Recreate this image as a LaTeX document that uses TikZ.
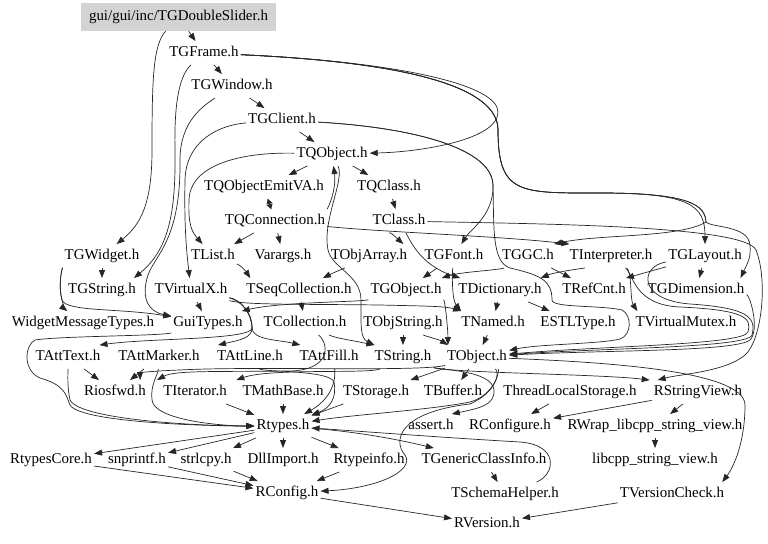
\documentclass[tikz,border=0pt]{standalone}
\usepackage{fontspec}
\setmainfont{Liberation Serif}
\usetikzlibrary{arrows.meta}
\definecolor{gbox}{RGB}{211,211,211}
\begin{document}
\begin{tikzpicture}[x=1bp,y=-1bp,
  nd/.style={inner xsep=2bp, inner ysep=4.5bp, text height=11bp, text depth=3.5bp, font=\fontsize{15}{18}\selectfont, text=black},
  edg/.style={draw=black!85, line width=0.7bp, -{Triangle[length=8bp,width=6bp]}},
  edgs/.style={draw=black!85, line width=0.7bp, -{Triangle[length=5bp,width=6bp]}}]
\useasboundingbox (0,0) rectangle (768,544);
% nodes
\node[nd, fill=gbox, minimum width=195bp, minimum height=28bp] (gui) at (178.5,17) {gui/gui/inc/TGDoubleSlider.h};
\node[nd] (TGFrame) at (204,53) {TGFrame.h};
\node[nd] (TGWindow) at (232,86) {TGWindow.h};
\node[nd] (TGClient) at (282,120) {TGClient.h};
\node[nd] (TQObject) at (332,154) {TQObject.h};
\node[nd] (TQObjectEmitVA) at (264,187) {TQObjectEmitVA.h};
\node[nd] (TQClass) at (389,187) {TQClass.h};
\node[nd] (TQConnection) at (275,221) {TQConnection.h};
\node[nd] (TClass) at (399,221) {TClass.h};
\node[nd] (TGWidget) at (102,256) {TGWidget.h};
\node[nd] (TList) at (213,256) {TList.h};
\node[nd] (Varargs) at (283,256) {Varargs.h};
\node[nd] (TObjArray) at (369,256) {TObjArray.h};
\node[nd] (TGFont) at (454,256) {TGFont.h};
\node[nd] (TGGC) at (528,256) {TGGC.h};
\node[nd] (TInterpreter) at (611,256) {TInterpreter.h};
\node[nd] (TGLayout) at (705,256) {TGLayout.h};
\node[nd] (TGString) at (102,290) {TGString.h};
\node[nd] (TVirtualX) at (191,290) {TVirtualX.h};
\node[nd] (TSeqCollection) at (299,290) {TSeqCollection.h};
\node[nd] (TGObject) at (406,290) {TGObject.h};
\node[nd] (TDictionary) at (500,290) {TDictionary.h};
\node[nd] (TRefCnt) at (594,290) {TRefCnt.h};
\node[nd] (TGDimension) at (696,290) {TGDimension.h};
\node[nd] (WidgetMessageTypes) at (83,323) {WidgetMessageTypes.h};
\node[nd] (GuiTypes) at (208,323) {GuiTypes.h};
\node[nd] (TCollection) at (305,323) {TCollection.h};
\node[nd] (TObjString) at (403,323) {TObjString.h};
\node[nd] (TNamed) at (493,323) {TNamed.h};
\node[nd] (ESTLType) at (578,323) {ESTLType.h};
\node[nd] (TVirtualMutex) at (686,323) {TVirtualMutex.h};
\node[nd] (TAttText) at (68,357) {TAttText.h};
\node[nd] (TAttMarker) at (159,357) {TAttMarker.h};
\node[nd] (TAttLine) at (250,357) {TAttLine.h};
\node[nd] (TAttFill) at (329,357) {TAttFill.h};
\node[nd] (TString) at (403,357) {TString.h};
\node[nd] (TObject) at (477,357) {TObject.h};
\node[nd] (Riosfwd) at (115,392) {Riosfwd.h};
\node[nd] (TIterator) at (195,392) {TIterator.h};
\node[nd] (TMathBase) at (283,392) {TMathBase.h};
\node[nd] (TStorage) at (376,392) {TStorage.h};
\node[nd] (TBuffer) at (453,392) {TBuffer.h};
\node[nd] (ThreadLocalStorage) at (570,392) {ThreadLocalStorage.h};
\node[nd] (RStringView) at (698,392) {RStringView.h};
\node[nd] (Rtypes) at (283,426) {Rtypes.h};
\node[nd] (assert) at (431,426) {assert.h};
\node[nd] (RConfigure) at (510,426) {RConfigure.h};
\node[nd] (RWrap) at (655,426) {RWrap\_libcpp\_string\_view.h};
\node[nd] (RtypesCore) at (51,460) {RtypesCore.h};
\node[nd] (snprintf) at (137,460) {snprintf.h};
\node[nd] (strlcpy) at (206,460) {strlcpy.h};
\node[nd] (DllImport) at (283,460) {DllImport.h};
\node[nd] (Rtypeinfo) at (369,460) {Rtypeinfo.h};
\node[nd] (TGenericClassInfo) at (484,460) {TGenericClassInfo.h};
\node[nd] (libcpp) at (655,460) {libcpp\_string\_view.h};
\node[nd] (RConfig) at (287,493) {RConfig.h};
\node[nd] (TSchemaHelper) at (505,494) {TSchemaHelper.h};
\node[nd] (TVersionCheck) at (672,494) {TVersionCheck.h};
\node[nd] (RVersion) at (487,524) {RVersion.h};
% top edges
\draw[edg] (gui) -- (TGFrame);
\draw[edg] (gui) .. controls (153,45) and (152,80) .. (152,150) .. controls (152,205) and (140,225) .. (TGWidget);
\draw[edg] (TGFrame) -- (TGWindow);
\draw[edg] (TGFrame) .. controls (400,62) and (498,85) .. (498,112) .. controls (498,140) and (420,152) .. (TQObject);
\draw[edg] (TGFrame) .. controls (400,62) and (498,85) .. (498,130) .. controls (498,195) and (520,193) .. (600,193) .. controls (690,193) and (705,205) .. (TGLayout);
\draw[edg] (TGFrame) .. controls (400,62) and (498,85) .. (498,130) .. controls (498,195) and (520,193) .. (600,193) .. controls (690,193) and (705,205) .. (706,222) .. controls (712,228) and (748,225) .. (750,245) .. controls (751,258) and (748,262) .. ([xshift=-6bp]TGDimension.north east);
\draw[edg] (TGFrame) .. controls (400,62) and (498,85) .. (498,130) .. controls (498,195) and (520,193) .. (600,193) .. controls (690,193) and (705,205) .. (706,222) .. controls (680,238) and (600,234) .. ([xshift=-2bp]TGGC.north east);
\draw[edg] (TGFrame) .. controls (180,75) and (174,100) .. (175,150) .. controls (176,215) and (168,250) .. ([xshift=-4bp]TGString.north east);
\draw[edg] (TGWindow) -- (TGClient);
\draw[edg] (TGWindow) .. controls (205,105) and (180,120) .. (180,160) .. controls (181,240) and (155,255) .. (148,275) .. controls (140,300) and (150,312) .. (GuiTypes);
\draw[edg] (TGClient) -- (TQObject);
\draw[edg] (TGClient) .. controls (220,125) and (186,140) .. (185,180) .. controls (184,230) and (187,255) .. (TVirtualX);
\draw[edg] (TGClient) .. controls (420,128) and (492,150) .. (493,185) .. controls (494,215) and (470,230) .. (TGFont);
\draw[edg] (TGClient) .. controls (420,128) and (492,150) .. (493,185) .. controls (494,230) and (492,262) .. (510,268) .. controls (540,275) and (552,280) .. (552,300) .. controls (552,308) and (600,305) .. (622,310) .. controls (632,315) and (632,335) .. (620,339) .. controls (600,344) and (540,344) .. (TObject);
\draw[edg] (TQObject) -- (TQObjectEmitVA);
\draw[edg] (TQObject) -- (TQClass);
\draw[edg] (TQObject) .. controls (240,152) and (190,165) .. (189,200) .. controls (188,225) and (192,232) .. (TList);
\draw[edg] (TQObject) .. controls (345,180) and (322,220) .. (328,250) .. controls (332,268) and (361,275) .. (361,300) .. controls (361,325) and (360,338) .. ([xshift=2bp]TString.north west);
\draw[edg] (TQClass) -- (TClass);
\draw[edgs] (TQObjectEmitVA) -- (TQConnection);
\draw[edgs] (TQConnection) -- (TQObjectEmitVA);
\draw[edg] (TQConnection.north east) .. controls (332,200) and (336,185) .. (TQObject);
\draw[edg] (TQConnection) -- (TList);
\draw[edg] (TQConnection) -- (Varargs);
\draw[edg] (TQConnection) .. controls (380,232) and (500,236) .. ([xshift=2bp]TInterpreter.north west);
\draw[edg] (TClass) .. controls (390,232) .. ([xshift=-6bp]TObjArray.north east);
\draw[edg] (TList) .. controls (240,265) and (245,270) .. ([xshift=6bp]TSeqCollection.north west);
\draw[edg] (TObjArray) .. controls (345,268) and (335,272) .. (TSeqCollection);
\draw[edg] (TClass) .. controls (410,240) and (420,265) .. ([xshift=4bp]TDictionary.north west);
\draw[edg] (TClass) .. controls (550,224) and (745,226) .. (756,250) .. controls (768,280) and (762,340) .. (745,355) .. controls (725,372) and (680,374) .. ([xshift=6bp]RStringView.north west);
% middle edges
\draw[edg] (TVirtualX) -- (GuiTypes);
\draw[edg] (TGWidget) -- (TGString);
\draw[edg] (TGWidget) .. controls (62,268) and (58,285) .. (62,300) .. controls (64,308) and (66,310) .. (WidgetMessageTypes);
\draw[edg] (TGWidget) .. controls (62,268) and (58,285) .. (62,300) .. controls (66,312) and (120,308) .. (GuiTypes);
\draw[edg] (TVirtualX) .. controls (240,300) and (252,312) .. (252,328) .. controls (252,340) and (150,338) .. ([xshift=-3bp]TAttText.north east);
\draw[edg] (TVirtualX) .. controls (240,300) and (252,312) .. (252,328) .. controls (252,338) and (240,340) .. ([xshift=3bp]TAttLine.north west);
\draw[edg] (TVirtualX) .. controls (240,300) and (252,312) .. (252,328) .. controls (252,340) and (280,340) .. ([xshift=3bp]TAttFill.north west);
\draw[edg] (TVirtualX) .. controls (245,305) and (300,304) .. (380,305) .. controls (420,306) and (445,306) .. ([xshift=2bp]TNamed.north west);
\draw[edg] (TSeqCollection) -- (TCollection);
\draw[edg] (TGObject) .. controls (360,302) and (280,302) .. ([xshift=-3bp]GuiTypes.north east);
\draw[edg] (TGObject) .. controls (445,300) and (448,330) .. ([xshift=3bp]TObject.north west);
\draw[edg] (TGFont) -- (TGObject);
\draw[edg] (TGFont) .. controls (452,275) and (452,300) .. ([xshift=2bp]TNamed.north west);
\draw[edg] (TGGC) .. controls (500,270) and (460,272) .. ([xshift=-2bp]TGObject.north east);
\draw[edg] (TGGC) -- (TRefCnt);
\draw[edg] (TInterpreter) .. controls (585,268) and (555,272) .. ([xshift=-3bp]TDictionary.north east);
\draw[edg] (TInterpreter) .. controls (632,272) and (630,300) .. ([xshift=4bp]TVirtualMutex.north west);
\draw[edg] (TInterpreter) .. controls (634,275) and (634,305) .. (680,307) .. controls (745,310) and (752,318) .. (748,332) .. controls (744,345) and (600,346) .. (TObject);
\draw[edg] (TGLayout) -- ([xshift=-2bp]TRefCnt.north east);
\draw[edg] (TGLayout) -- (TGDimension);
\draw[edg] (TGLayout) .. controls (640,266) and (637,300) .. (690,304) .. controls (750,308) and (756,318) .. (752,335) .. controls (748,348) and (600,348) .. (TObject);
\draw[edg] (TGDimension) .. controls (750,295) and (760,330) .. (750,340) .. controls (735,352) and (600,350) .. (TObject);
\draw[edg] (TDictionary) -- (TNamed);
\draw[edg] (TDictionary) -- (ESTLType);
\draw[edg] (TNamed) -- (TObject);
\draw[edg] (TObjString) -- (TString);
\draw[edg] (TObjString) .. controls (425,336) and (440,340) .. ([xshift=3bp]TObject.north west);
\draw[edg] (TCollection) .. controls (335,338) and (350,340) .. ([xshift=2bp]TString.north west);
% lower edges
\draw[edg] (TAttText) -- (Riosfwd);
\draw[edg] (TAttMarker) -- (Riosfwd);
\draw[edg] (GuiTypes) .. controls (160,336) and (60,336) .. (35,340) .. controls (25,345) and (22,370) .. (40,378) .. controls (65,385) and (66,395) .. (70,405) .. controls (80,422) and (200,426) .. (Rtypes);
\draw[edg] (TAttText) .. controls (68,375) and (67,385) .. (70,400) .. controls (80,420) and (200,426) .. (Rtypes);
\draw[edg] (TAttMarker) .. controls (158,375) and (150,385) .. (152,400) .. controls (154,420) and (220,426) .. (Rtypes);
\draw[edg] (TAttLine) .. controls (262,372) and (330,370) .. (334,382) .. controls (337,398) and (330,408) .. (Rtypes);
\draw[edg] (TAttFill) .. controls (335,370) and (338,395) .. (Rtypes);
\draw[edg] (TCollection) .. controls (330,345) and (330,370) .. (290,371) .. controls (220,372) and (175,370) .. ([xshift=-4bp]TIterator.north west);
\draw[edg] (TString) .. controls (370,374) and (270,368) .. ([xshift=-4bp]TMathBase.north west);
\draw[edg] (TIterator) -- (Rtypes);
\draw[edg] (TMathBase) -- (Rtypes);
\draw[edg] (TStorage) -- (Rtypes);
\draw[edg] (TObject) -- (TStorage);
\draw[edg] (TObject) -- (TBuffer);
\draw[edg] (TObject) .. controls (420,372) and (250,366) .. (180,370) .. controls (150,371) and (140,373) .. ([xshift=-8bp]Riosfwd.north east);
\draw[edg] (TString) .. controls (450,373) and (600,374) .. ([xshift=-2bp]RStringView.north west);
\draw[edg] (TObject) .. controls (500,370) and (495,395) .. (470,402) .. controls (430,410) and (350,415) .. (Rtypes);
\draw[edg] (TString) .. controls (440,370) and (492,370) .. (494,390) .. controls (495,405) and (480,408) .. ([xshift=-4bp]assert.north east);
\draw[edg] (TObject) .. controls (500,372) and (497,392) .. (470,404) .. controls (400,412) and (392,440) .. (405,455) .. controls (415,470) and (380,488) .. (RConfig);
\draw[edg] (TObject) .. controls (600,362) and (745,370) .. (745,405) .. controls (745,440) and (735,465) .. ([xshift=-4bp]TVersionCheck.north east);
\draw[edg] (ThreadLocalStorage) -- (RConfigure);
\draw[edg] (RStringView) -- (RConfigure);
\draw[edg] (RStringView) -- (RWrap);
\draw[edg] (RWrap) -- (libcpp);
\draw[edg] (Rtypes) -- (RtypesCore);
\draw[edg] (Rtypes) -- (snprintf);
\draw[edg] (Rtypes) -- (strlcpy);
\draw[edg] (Rtypes) -- (DllImport);
\draw[edg] (Rtypes) -- (Rtypeinfo);
\draw[edg] (Rtypes) .. controls (360,432) and (400,440) .. (TGenericClassInfo);
\draw[edg] (RtypesCore) -- (RConfig);
\draw[edg] (snprintf) -- (RConfig);
\draw[edg] (strlcpy) -- (RConfig);
\draw[edg] (Rtypeinfo) -- (RConfig);
\draw[edg] (TSchemaHelper) .. controls (555,475) and (560,445) .. (520,442) .. controls (450,438) and (370,432) .. (Rtypes);
\draw[edg] (TGenericClassInfo) -- (TSchemaHelper);
\draw[edg] (RConfig) -- (RVersion);
\draw[edg] (TVersionCheck) -- (RVersion);
\end{tikzpicture}
\end{document}
